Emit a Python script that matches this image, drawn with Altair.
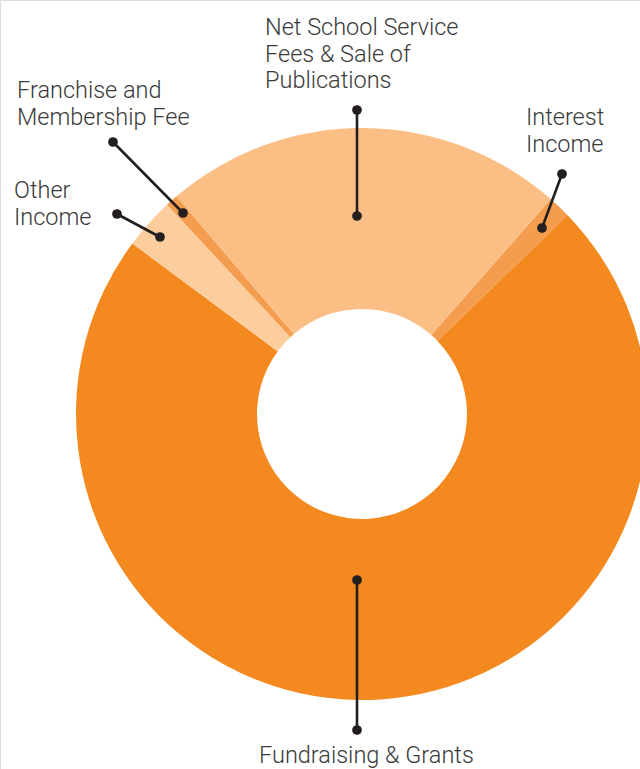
import altair as alt
import pandas as pd

# Slice data (share of income, %), in drawing order clockwise from the Interest slice
categories = ["Interest Income", "Fundraising & Grants", "Other Income",
              "Franchise and Membership Fee", "Net School Service Fees & Sale of Publications"]
values = [1.3, 72.4, 2.9, 0.7, 22.7]
colors = ["#F59D4E", "#F3891F", "#FDCE9D", "#F59D4E", "#FBBF86"]

# Label texts (one entry per category) and leader line anchors (page pixel frame)
label_text = ["Interest\nIncome", "Fundraising & Grants", "Other\nIncome",
              "Franchise and\nMembership Fee", "Net School Service\nFees & Sale of\nPublications"]
label_x = [526, 259, 14, 17, 265]
label_y = [125, 763, 198, 98, 35]
lead_x1 = [542, 357, 160, 183, 357]
lead_y1 = [228, 580, 237, 213, 216]
lead_x2 = [562, 357, 117, 113, 357]
lead_y2 = [174, 730, 214, 142, 110]

W, H = 640, 769
CX, CY = 362, 414
START = 41.27 * 3.141592653589793 / 180

df = pd.DataFrame({"cat": categories, "value": values, "order": list(range(len(values)))})
lab = pd.DataFrame({"text": label_text, "lx": label_x, "ly": label_y,
                    "x1": lead_x1, "y1": lead_y1, "x2": lead_x2, "y2": lead_y2})

arcs = alt.Chart(df).mark_arc(innerRadius=105, outerRadius=286, stroke=None).encode(
    theta=alt.Theta("value:Q", stack=True,
                    scale=alt.Scale(range=[START, START + 2 * 3.141592653589793])),
    color=alt.Color("cat:N", scale=alt.Scale(domain=categories, range=colors), legend=None),
    order=alt.Order("order:Q"),
    x=alt.value(CX),
    y=alt.value(CY),
)

xs = alt.Scale(domain=[0, W], range=[0, W], nice=False, zero=False)
ys = alt.Scale(domain=[0, H], range=[0, H], nice=False, zero=False)

base = alt.Chart(lab)
rules = base.mark_rule(color="#231F20", strokeWidth=2.6).encode(
    x=alt.X("x1:Q", scale=xs, axis=None), y=alt.Y("y1:Q", scale=ys, axis=None),
    x2="x2:Q", y2="y2:Q")
dots_in = base.mark_circle(color="#231F20", opacity=1, size=95).encode(
    x=alt.X("x1:Q", scale=xs, axis=None), y=alt.Y("y1:Q", scale=ys, axis=None))
dots_out = base.mark_circle(color="#231F20", opacity=1, size=95).encode(
    x=alt.X("x2:Q", scale=xs, axis=None), y=alt.Y("y2:Q", scale=ys, axis=None))
texts = base.mark_text(align="left", baseline="alphabetic", font="Roboto", fontWeight=300,
                       fontSize=23.5, lineHeight=26.6, color="#3A3A3A", lineBreak="\n").encode(
    x=alt.X("lx:Q", scale=xs, axis=None), y=alt.Y("ly:Q", scale=ys, axis=None),
    text="text:N")

chart = alt.layer(arcs, rules, dots_in, dots_out, texts).properties(
    width=W, height=H, padding=0, autosize="none"
).configure_view(stroke=None).configure(background="white")

chart.save("out.html", embed_options={"renderer": "svg", "actions": False})
